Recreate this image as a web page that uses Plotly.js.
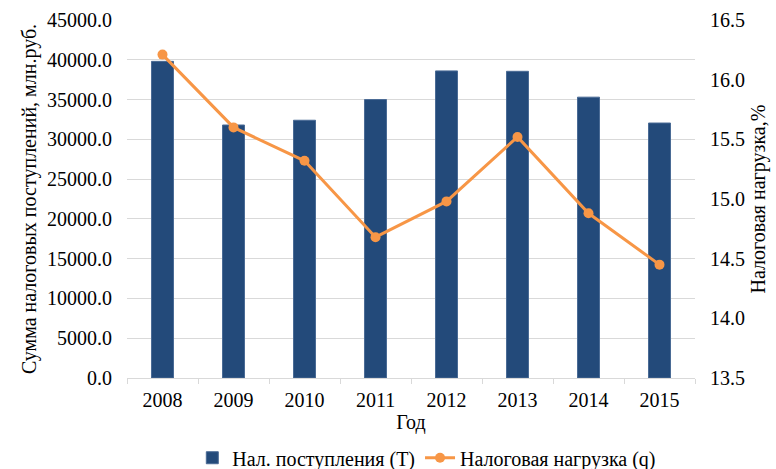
<!DOCTYPE html>
<html>
<head>
<meta charset="utf-8">
<script src="https://cdn.plot.ly/plotly-3.0.1.min.js"></script>
<style>
  body { margin: 0; background: #fff; }
  #chart { width: 776px; height: 469px; }
</style>
</head>
<body>
<div id="chart"></div>
<script>
// years and the two series
let years = ['2008', '2009', '2010', '2011', '2012', '2013', '2014', '2015'];
let taxRevenue = [39800, 31800, 32400, 35000, 38600, 38550, 35300, 32050];
let taxBurden = [16.21, 15.60, 15.32, 14.68, 14.98, 15.52, 14.88, 14.45];

let serif = 'Times New Roman, Liberation Serif, DejaVu Serif, serif';

let barTrace = {
  x: years,
  y: taxRevenue,
  type: 'bar',
  name: 'Нал. поступления (T)',
  marker: { color: '#234a7a', line: { color: '#4a6b95', width: 1 } },
  yaxis: 'y'
};

let lineTrace = {
  x: years,
  y: taxBurden,
  type: 'scatter',
  mode: 'lines+markers',
  name: 'Налоговая нагрузка (q)',
  line: { color: '#f79646', width: 3 },
  marker: { color: '#f79646', size: 10 },
  yaxis: 'y2'
};

let layout = {
  width: 776,
  height: 469,
  margin: { l: 127, r: 81, t: 20, b: 91 },
  paper_bgcolor: '#ffffff',
  plot_bgcolor: '#ffffff',
  font: { family: serif, size: 20, color: '#000' },
  bargap: 0.69,
  showlegend: true,
  legend: {
    orientation: 'h',
    xref: 'container', yref: 'container',
    x: 0.55, xanchor: 'center',
    y: 0.024, yanchor: 'middle',
    font: { family: serif, size: 20 }
  },
  xaxis: {
    type: 'category',
    title: { text: 'Год', font: { family: serif, size: 20 }, standoff: 4 },
    tickfont: { family: serif, size: 20 },
    ticklabelstandoff: 4,
    showgrid: false,
    showline: true,
    linecolor: '#d9d9d9',
    ticks: 'outside',
    tickson: 'boundaries',
    ticklen: 5,
    tickcolor: '#d9d9d9'
  },
  yaxis: {
    title: { text: 'Сумма налоговых поступлений, млн.руб.', font: { family: serif, size: 20 }, standoff: 5 },
    tickfont: { family: serif, size: 20 },
    ticklabelstandoff: 14,
    range: [0, 45000],
    dtick: 5000,
    tickformat: '.1f',
    showgrid: true,
    gridcolor: '#d9d9d9',
    zeroline: false,
    showline: false
  },
  yaxis2: {
    title: { text: 'Налоговая нагрузка,%', font: { family: serif, size: 20 }, standoff: 6 },
    tickfont: { family: serif, size: 20 },
    ticklabelstandoff: 14,
    overlaying: 'y',
    side: 'right',
    range: [13.5, 16.5],
    dtick: 0.5,
    tickformat: '.1f',
    showgrid: false,
    zeroline: false,
    showline: false
  }
};

Plotly.newPlot('chart', [barTrace, lineTrace], layout, { displayModeBar: false });
</script>
</body>
</html>
